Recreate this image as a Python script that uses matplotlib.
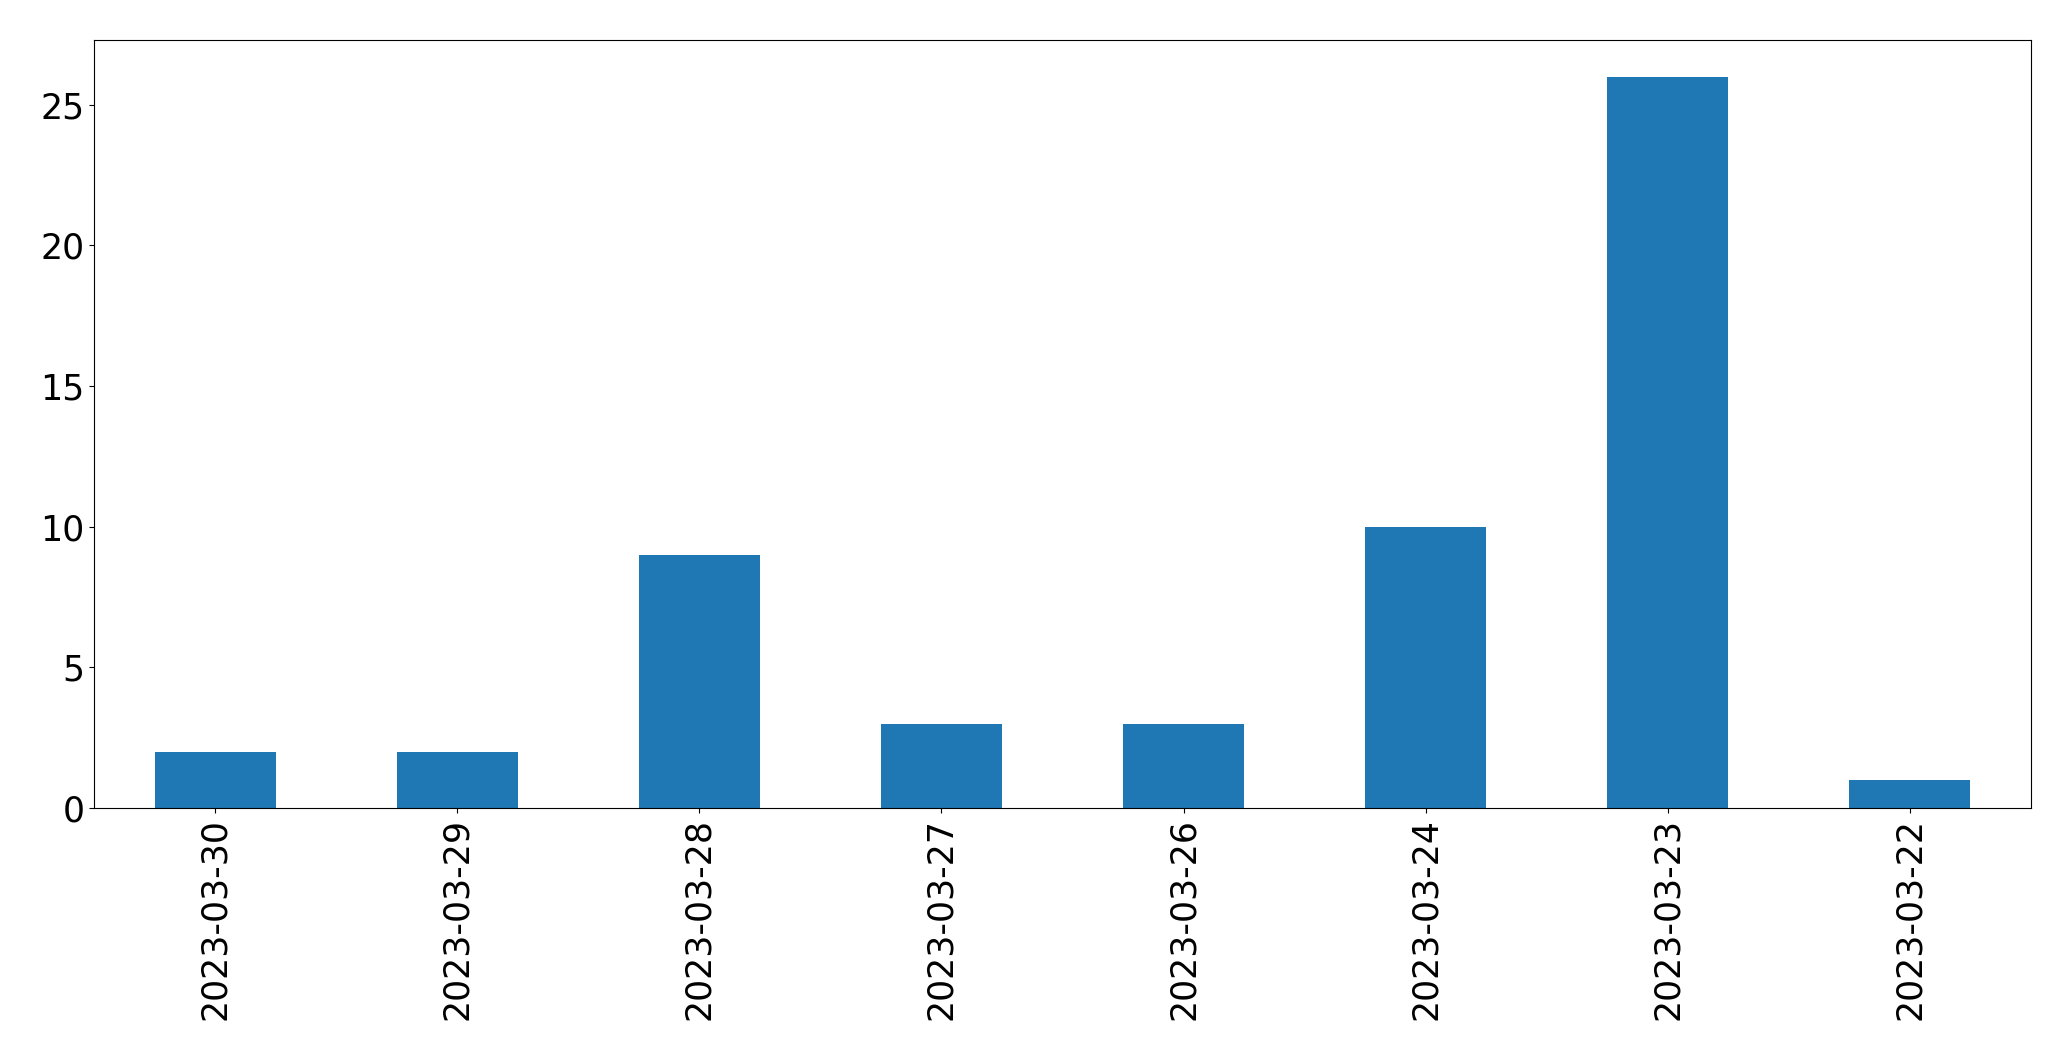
import pandas as pd
import matplotlib
matplotlib.use("Agg")
import matplotlib.pyplot as plt

dates = ["2023-03-30", "2023-03-29", "2023-03-28", "2023-03-27",
         "2023-03-26", "2023-03-24", "2023-03-23", "2023-03-22"]
counts = [2, 2, 9, 3, 3, 10, 26, 1]

s = pd.Series(counts, index=dates)

fig = plt.figure(figsize=(20.71, 10.61), dpi=100)
ax = fig.add_axes([0.0454, 0.2385, 0.9353, 0.7238])
s.plot(kind="bar", ax=ax, color="#1f77b4")
ax.tick_params(axis="both", labelsize=25)

plt.savefig("out.png", dpi=100)
plt.close()
